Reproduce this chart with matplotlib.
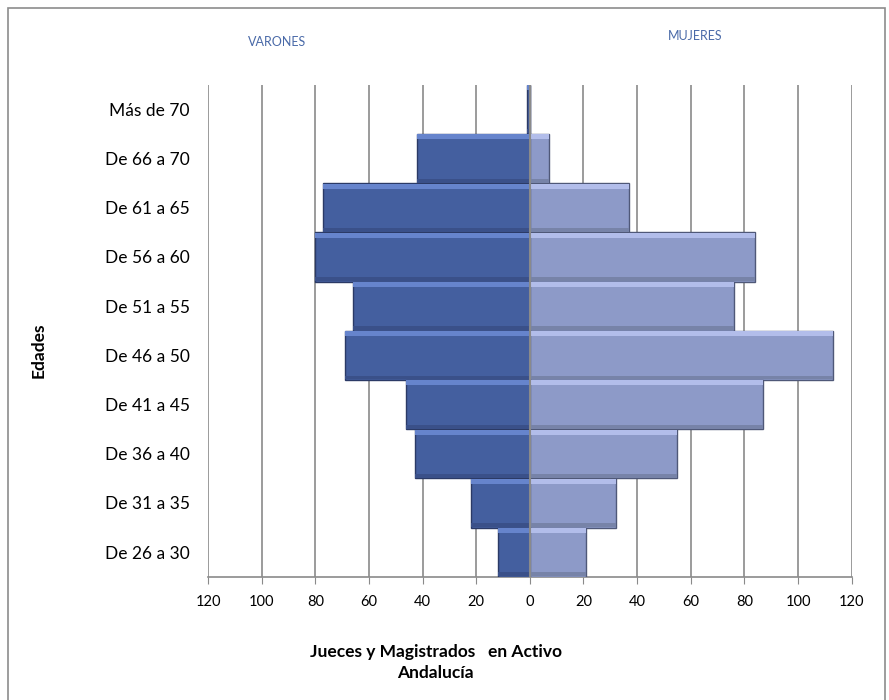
import matplotlib.pyplot as plt
import numpy as np
from matplotlib.patches import Rectangle

# age groups, top to bottom as in the chart
edades = ['Más de 70', 'De 66 a 70', 'De 61 a 65', 'De 56 a 60', 'De 51 a 55',
          'De 46 a 50', 'De 41 a 45', 'De 36 a 40', 'De 31 a 35', 'De 26 a 30']
varones = [1, 42, 77, 80, 66, 69, 46, 43, 22, 12]
mujeres = [0, 7, 37, 84, 76, 113, 87, 55, 32, 21]
ticks = [-120, -100, -80, -60, -40, -20, 0, 20, 40, 60, 80, 100, 120]


def main():
    plt.rcParams['font.family'] = ['Lato', 'DejaVu Sans']
    fig = plt.figure(figsize=(8.89, 7.0), dpi=100)
    ax = fig.add_axes([0.234, 0.176, 0.724, 0.703])

    # frame round the whole picture
    fig.patches.append(Rectangle((0.009, -0.01), 0.987, 0.998, transform=fig.transFigure,
                                 fill=False, edgecolor='#8c8c8c', lw=1.2))

    y = np.arange(len(edades))
    neg = [-v for v in varones]
    ax.barh(y, neg, height=1.0, color='#445f9f',
            edgecolor='#2b3a66', lw=1.0, zorder=3)
    ax.barh(y, mujeres, height=1.0, color='#8d9ac8',
            edgecolor='#4f5878', lw=1.0, zorder=3)

    # bevel: light band on top, darker band at the bottom
    ax.barh(y - 0.44, neg, height=0.1, color='#6684cc', lw=0, zorder=4)
    ax.barh(y - 0.44, mujeres, height=0.1, color='#b2bdea', lw=0, zorder=4)
    ax.barh(y + 0.45, neg, height=0.08, color='#3a5089', lw=0, zorder=4)
    ax.barh(y + 0.45, mujeres, height=0.08, color='#7783a8', lw=0, zorder=4)

    ax.set_ylim(len(edades) - 0.5, -0.5)
    ax.set_xlim(-120, 120)
    for t in ticks:
        ax.axvline(t, color='#8a8a8a', lw=1.2, zorder=1)
    ax.axvline(0, color='#8a8a8a', lw=1.5, zorder=5)

    ax.set_xticks(ticks)
    ax.set_xticklabels([str(abs(t)) for t in ticks], fontsize=10.5)
    ax.set_yticks(y)
    ax.set_yticklabels(edades, fontsize=12.5)
    ax.tick_params(axis='y', length=0, pad=13)
    ax.tick_params(axis='x', length=5, color='#8a8a8a', pad=8)

    for s in ['top', 'right', 'left']:
        ax.spines[s].set_visible(False)
    ax.spines['bottom'].set_color('#8a8a8a')
    ax.spines['bottom'].set_linewidth(1.2)

    fig.text(0.043, 0.5, 'Edades', rotation=90, fontsize=12.5, fontweight='bold',
             ha='center', va='center')
    fig.text(0.312, 0.94, 'VARONES', color='#4a6aa8', fontsize=9,
             ha='center', va='center')
    fig.text(0.782, 0.948, 'MUJERES', color='#4a6aa8', fontsize=9,
             ha='center', va='center')
    fig.text(0.49, 0.054, 'Jueces y Magistrados   en Activo\nAndalucía',
             fontsize=12.5, fontweight='bold', ha='center', va='center',
             linespacing=1.4)

    fig.savefig('out.png', dpi=100)


if __name__ == '__main__':
    main()
